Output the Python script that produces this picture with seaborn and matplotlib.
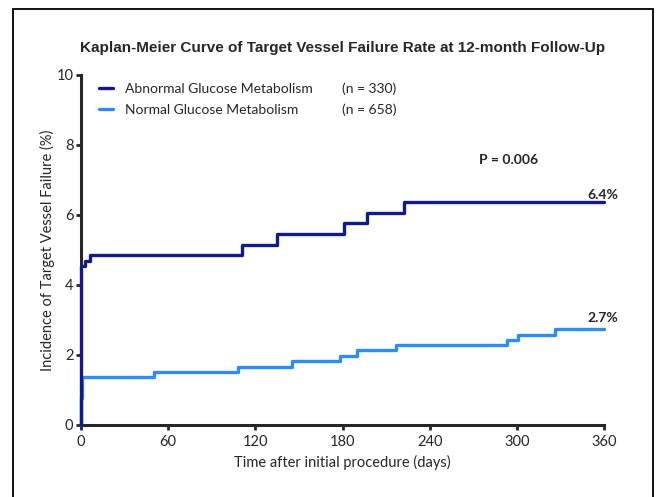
import matplotlib
matplotlib.use("Agg")
import matplotlib.pyplot as plt
import matplotlib.patches as patches
from matplotlib.lines import Line2D
import seaborn as sns
import pandas as pd

# Kaplan-Meier step data (cumulative incidence, %)
abnormal_days = [0, 0, 3, 6, 111, 135, 181, 197, 222, 360]
abnormal_pct = [0, 4.55, 4.70, 4.85, 5.15, 5.45, 5.76, 6.06, 6.36, 6.36]
normal_days = [0, 0, 1, 50, 108, 145, 178, 190, 217, 293, 301, 326, 360]
normal_pct = [0, 0.76, 1.37, 1.52, 1.67, 1.82, 1.98, 2.13, 2.28, 2.43, 2.58, 2.74, 2.74]

group_names = ["Abnormal Glucose Metabolism", "Normal Glucose Metabolism"]
group_n = ["(n = 330)", "(n = 658)"]
end_labels = ["6.4%", "2.7%"]
x_ticks = [0, 60, 120, 180, 240, 300, 360]
y_ticks = [0, 2, 4, 6, 8, 10]

dark = "#101a8c"
light = "#2f8cf3"

sns.set_style("ticks")
plt.rcParams["font.family"] = ["Lato", "DejaVu Sans"]
plt.rcParams["axes.linewidth"] = 2.2

df = pd.concat([
    pd.DataFrame({"day": abnormal_days, "pct": abnormal_pct, "group": group_names[0]}),
    pd.DataFrame({"day": normal_days, "pct": normal_pct, "group": group_names[1]}),
])

fig = plt.figure(figsize=(6.58, 4.97), dpi=100)
ax = fig.add_axes([81 / 658, 72 / 497, 523 / 658, 350 / 497])

# normal first so the abnormal curve sits on top
sns.lineplot(data=df[df.group == group_names[1]], x="day", y="pct", color=light,
             drawstyle="steps-post", sort=False, estimator=None, lw=2.4, ax=ax,
             clip_on=False, zorder=3)
sns.lineplot(data=df[df.group == group_names[0]], x="day", y="pct", color=dark,
             drawstyle="steps-post", sort=False, estimator=None, lw=2.4, ax=ax,
             clip_on=False, zorder=4)

ax.set_xlim(0, 360)
ax.set_ylim(0, 10)
ax.set_xticks(x_ticks)
ax.set_yticks(y_ticks)
ax.tick_params(length=3.5, width=2, labelsize=10.5, pad=2)
ax.tick_params(axis="x", pad=4)
sns.despine(ax=ax)
ax.set_xlabel("Time after initial procedure (days)", fontsize=10.5, labelpad=4)
ax.set_ylabel("Incidence of Target Vessel Failure (%)", fontsize=10.5, labelpad=1)

handles = [Line2D([], [], color=dark, lw=2.4), Line2D([], [], color=light, lw=2.4)]
ax.legend(handles, group_names, loc="upper left", bbox_to_anchor=(0.01, 1.012),
          frameon=False, fontsize=10, handlelength=1.0, handletextpad=0.9,
          labelspacing=0.62)
for yy, n in zip([0.962, 0.902], group_n):
    ax.text(0.5, yy, n, transform=ax.transAxes, fontsize=10, va="center")

ax.text(294, 7.57, "P = 0.006", fontsize=10, fontweight="bold", ha="center", va="center")
ax.text(359, 6.58, end_labels[0], fontsize=10, fontweight="bold", ha="center", va="center")
ax.text(359, 3.07, end_labels[1], fontsize=10, fontweight="bold", ha="center", va="center")

fig.text(0.52, 1 - 48 / 497, "Kaplan-Meier Curve of Target Vessel Failure Rate at 12-month Follow-Up",
         ha="center", va="center", fontsize=11, fontweight="bold", family="Liberation Sans")

# outer frame around the figure
fig.patches.append(patches.Rectangle((13 / 658, -0.05), 640 / 658, 1.05 - 9 / 497,
                                     transform=fig.transFigure, fill=False,
                                     edgecolor="black", lw=1.3))

fig.savefig("out.png", dpi=100)
